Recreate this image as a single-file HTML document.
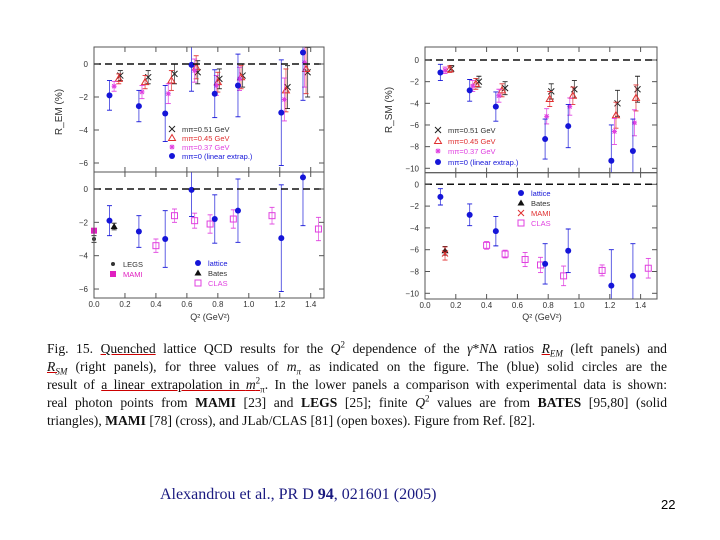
<!DOCTYPE html>
<html><head><meta charset="utf-8"><style>
body{margin:0;background:#fff;width:720px;height:540px;overflow:hidden;position:relative;font-family:"Liberation Serif",serif}
svg{position:absolute;left:0;top:0}
.cap{position:absolute;left:47px;top:340px;width:620px;font-size:13.6px;color:#111}
.ln{height:18px;line-height:18px;text-align:justify;text-align-last:justify;white-space:nowrap;overflow:visible}
.ln.last{text-align-last:left}
sup,sub{font-size:9px;line-height:0}
.u{text-decoration:underline;text-decoration-color:#c00}
</style></head><body>
<svg id="chart" width="720" height="330"></svg>
<div class="cap">
<div class="ln">Fig. 15. <span class="u">Quenched</span> lattice QCD results for the <i>Q</i><sup>2</sup> dependence of the <i>γ</i>*<i>N</i>Δ ratios <span class="u"><i>R<sub>EM</sub></i></span> (left panels) and</div>
<div class="ln"><span class="u"><i>R<sub>SM</sub></i></span> (right panels), for three values of <i>m<sub>π</sub></i> as indicated on the figure. The (blue) solid circles are the</div>
<div class="ln">result of <span class="u">a linear extrapolation in <i>m</i><sup>2</sup><sub>π</sub></span>. In the lower panels a comparison with experimental data is shown:</div>
<div class="ln">real photon points from <b>MAMI</b> [23] and <b>LEGS</b> [25]; finite <i>Q</i><sup>2</sup> values are from <b>BATES</b> [95,80] (solid</div>
<div class="ln last">triangles), <b>MAMI</b> [78] (cross), and JLab/CLAS [81] (open boxes). Figure from Ref. [82].</div>
</div>
<div style="position:absolute;left:160px;top:486px;font-size:16px;color:#1a1a80">Alexandrou et al., PR D <b>94</b>, 021601 (2005)</div>
<div style="position:absolute;left:661px;top:497px;font-family:'Liberation Sans',sans-serif;font-size:13px">22</div>
<script>
// R_EM data (left)
const emQ = [0.10,0.29,0.46,0.63,0.78,0.93,1.21,1.35];
const emLat = [-1.9,-2.55,-3.0,-0.05,-1.8,-1.3,-2.95,0.7];
const emLatErr = [0.9,0.95,1.7,1.6,1.45,1.9,3.2,2.9];
const em51Q = [0.17,0.35,0.52,0.67,0.81,0.96,1.25,1.38];
const em51 = [-0.7,-0.8,-0.6,-0.5,-0.9,-0.7,-1.4,-0.5];
const em45Q = [0.16,0.33,0.50,0.66,0.80,0.95,1.24,1.37];
const em45 = [-0.9,-1.1,-1.0,-0.2,-1.1,-0.8,-1.6,-0.3];
const em37Q = [0.13,0.31,0.48,0.65,0.79,0.94,1.23,1.36];
const em37 = [-1.35,-1.7,-1.8,-0.4,-1.3,-0.9,-2.15,0.1];
const emMassErr = [0.3,0.4,0.6,0.7,0.6,0.7,1.3,1.5];
const emClasQ = [0.40,0.52,0.65,0.75,0.90,1.15,1.45];
const emClas = [-3.4,-1.6,-1.9,-2.1,-1.8,-1.6,-2.4];
const emClasErr = [0.4,0.4,0.45,0.55,0.55,0.5,0.7];
// R_SM data (right)
const smQ = [0.10,0.29,0.46,0.78,0.93,1.21,1.35];
const smLat = [-1.15,-2.8,-4.3,-7.3,-6.1,-9.3,-8.4];
const smLatErr = [0.75,1.0,1.35,1.85,2.0,3.3,2.95];
const sm51Q = [0.17,0.35,0.52,0.82,0.97,1.25,1.38];
const sm51 = [-0.8,-2.0,-2.6,-2.9,-2.7,-4.0,-2.7];
const sm45Q = [0.16,0.33,0.50,0.81,0.96,1.24,1.37];
const sm45 = [-0.85,-2.2,-2.8,-3.6,-3.3,-5.1,-3.5];
const sm37Q = [0.13,0.31,0.48,0.79,0.94,1.23,1.36];
const sm37 = [-0.95,-2.4,-3.3,-5.2,-4.3,-6.6,-5.8];
const smMassErr = [0.3,0.5,0.6,0.7,0.8,1.2,1.2];
const smClasQ = [0.40,0.52,0.65,0.75,0.90,1.15,1.45];
const smClas = [-5.6,-6.4,-6.9,-7.4,-8.4,-7.9,-7.7];
const smClasErr = [0.35,0.35,0.65,0.7,0.9,0.5,0.9];
const xTicks = [0.0,0.2,0.4,0.6,0.8,1.0,1.2,1.4];

const svg=document.getElementById('chart');
const NS='http://www.w3.org/2000/svg';
function mk(tag,attrs,parent){const e=document.createElementNS(NS,tag);for(const k in attrs)e.setAttribute(k,attrs[k]);(parent||svg).appendChild(e);return e;}
const BLUE='#1515d8',RED='#e03030',MAG='#e040e0',BLK='#222';
const defs=mk('defs',{});
let clipN=0;

function panel(name,xl,xr,yt,yb,xs,y0,ys,yTicks,showX){
  const id='clip'+(clipN++);
  const cp=mk('clipPath',{id},defs);
  mk('rect',{x:xl-5,y:yt,width:xr-xl+10,height:yb-yt},cp);
  const outer=mk('g',{});
  
  
  const g=mk('g',{'clip-path':'url(#'+id+')'},outer);
  const X=v=>xl+xs*v, Y=v=>y0-ys*v;
  mk('rect',{x:xl,y:yt,width:xr-xl,height:yb-yt,fill:'none',stroke:'#555','stroke-width':1},outer);
  mk('line',{x1:xl,x2:xr,y1:Y(0),y2:Y(0),stroke:'#111','stroke-width':1.5,'stroke-dasharray':'7,4'},outer);
  yTicks.forEach(t=>{mk('line',{x1:xl,x2:xl+5,y1:Y(t),y2:Y(t),stroke:'#555'},outer);mk('line',{x1:xr,x2:xr-5,y1:Y(t),y2:Y(t),stroke:'#555'},outer);
    const tx=mk('text',{x:xl-6,y:Y(t)+3,'text-anchor':'end','font-size':8,'font-family':'Liberation Sans,sans-serif',fill:'#333'},outer);tx.textContent=(t<0?'−'+(-t):t);});
  xTicks.forEach(t=>{mk('line',{x1:X(t),x2:X(t),y1:yb,y2:yb-5,stroke:'#555'},outer);mk('line',{x1:X(t),x2:X(t),y1:yt,y2:yt+5,stroke:'#555'},outer);
    if(showX){const tx=mk('text',{x:X(t),y:yb+9,'text-anchor':'middle','font-size':8,'font-family':'Liberation Sans,sans-serif',fill:'#333'},outer);tx.textContent=t.toFixed(1);}});
  return {g,X,Y};
}
function err(p,x,y,e,c){mk('line',{x1:p.X(x),x2:p.X(x),y1:p.Y(y-e),y2:p.Y(y+e),stroke:c,'stroke-width':0.9,opacity:0.75},p.g);
  [y-e,y+e].forEach(v=>mk('line',{x1:p.X(x)-2.5,x2:p.X(x)+2.5,y1:p.Y(v),y2:p.Y(v),stroke:c,'stroke-width':0.9},p.g));}
function sym(p,type,cx,cy,name){let e;
  if(type==='dot')e=mk('circle',{cx,cy,r:3,fill:BLUE},p.g);
  else if(type==='x'){e=mk('path',{d:`M${cx-3},${cy-3}L${cx+3},${cy+3}M${cx-3},${cy+3}L${cx+3},${cy-3}`,stroke:BLK,'stroke-width':1},p.g);}
  else if(type==='xr'){e=mk('path',{d:`M${cx-3},${cy-3}L${cx+3},${cy+3}M${cx-3},${cy+3}L${cx+3},${cy-3}`,stroke:RED,'stroke-width':1},p.g);}
  else if(type==='tri')e=mk('path',{d:`M${cx},${cy-3.5}L${cx+3.5},${cy+2.5}L${cx-3.5},${cy+2.5}Z`,fill:'none',stroke:RED},p.g);
  else if(type==='ftri')e=mk('path',{d:`M${cx},${cy-3.5}L${cx+3.5},${cy+2.5}L${cx-3.5},${cy+2.5}Z`,fill:'#111'},p.g);
  else if(type==='star')e=mk('path',{d:`M${cx-2.5},${cy}L${cx+2.5},${cy}M${cx},${cy-2.5}L${cx},${cy+2.5}M${cx-2},${cy-2}L${cx+2},${cy+2}M${cx-2},${cy+2}L${cx+2},${cy-2}`,stroke:MAG,'stroke-width':1},p.g);
  else if(type==='box')e=mk('rect',{x:cx-3,y:cy-3,width:6,height:6,fill:'none',stroke:MAG},p.g);
  else if(type==='fbox')e=mk('rect',{x:cx-3,y:cy-3,width:6,height:6,fill:'#e020c0'},p.g);
  else if(type==='legs')e=mk('circle',{cx,cy,r:2,fill:'#333'},p.g);
  
  
}
function series(p,qs,vs,es,type,c,name){qs.forEach((q,i)=>{err(p,q,vs[i],es[i],c);sym(p,type,p.X(q),p.Y(vs[i]),name);});}
function label(x,y,txt,c,size,anchor,name){const t=mk('text',{x,y,fill:c,'font-size':size||8,'font-family':'Liberation Sans,sans-serif','text-anchor':anchor||'start'});t.textContent=txt;
  
  return t;}
function legend(p,x,y,type,txt,c,name){sym(p,type,x,y,name+'-symbol');label(x+10,y+3,txt,c,7.5,'start',name);}

// Left top
let p=panel('rem-top-panel',94,324,47,172,154.8,64,16.5,[0,-2,-4,-6],false);
series(p,em51Q,em51,emMassErr,'x',BLK,'rem-mpi-051-point');
series(p,em45Q,em45,emMassErr,'tri',RED,'rem-mpi-045-point');
series(p,em37Q,em37,emMassErr,'star',MAG,'rem-mpi-037-point');
series(p,emQ,emLat,emLatErr,'dot',BLUE,'rem-lattice-point');
legend(p,172,129,'x','mπ=0.51 GeV','#333','legend-entry-051');
legend(p,172,138,'tri','mπ=0.45 GeV',RED,'legend-entry-045');
legend(p,172,147,'star','mπ=0.37 GeV',MAG,'legend-entry-037');
legend(p,172,156,'dot','mπ=0 (linear extrap.)',BLUE,'legend-entry-lattice');
// Left bottom
p=panel('rem-bottom-panel',94,324,172,298,154.8,189,16.67,[0,-2,-4,-6],true);
series(p,emClasQ,emClas,emClasErr,'box',MAG,'rem-clas-point');
series(p,emQ,emLat,emLatErr,'dot',BLUE,'rem-lattice-point');
err(p,0,-3.0,0.2,BLK);sym(p,'legs',p.X(0),p.Y(-3.0),'legs-point');
sym(p,'fbox',p.X(0),p.Y(-2.5),'mami-point');
err(p,0.13,-2.25,0.2,BLK);sym(p,'ftri',p.X(0.13),p.Y(-2.25),'bates-point');
legend(p,113,264,'legs','LEGS','#333','legend-legs');
legend(p,113,274,'fbox','MAMI','#e020c0','legend-mami');
legend(p,198,263,'dot','lattice',BLUE,'legend-lattice');
legend(p,198,273,'ftri','Bates','#333','legend-bates');
legend(p,198,283,'box','CLAS',MAG,'legend-clas');
// Right top
p=panel('rsm-top-panel',425,657,47,172.7,154,60,10.83,[0,-2,-4,-6,-8,-10],false);
series(p,sm51Q,sm51,smMassErr,'x',BLK,'rsm-mpi-051-point');
series(p,sm45Q,sm45,smMassErr,'tri',RED,'rsm-mpi-045-point');
series(p,sm37Q,sm37,smMassErr,'star',MAG,'rsm-mpi-037-point');
series(p,smQ,smLat,smLatErr,'dot',BLUE,'rsm-lattice-point');
legend(p,438,130,'x','   mπ=0.51 GeV','#333','legend-entry-051');
legend(p,438,141,'tri','   mπ=0.45 GeV',RED,'legend-entry-045');
legend(p,438,151,'star','   mπ=0.37 GeV',MAG,'legend-entry-037');
legend(p,438,162,'dot','    mπ=0 (linear extrap.)',BLUE,'legend-entry-lattice');
// Right bottom
p=panel('rsm-bottom-panel',425,657,172.7,299,154,184.3,10.9,[0,-2,-4,-6,-8,-10],true);
series(p,smClasQ,smClas,smClasErr,'box',MAG,'rsm-clas-point');
series(p,smQ,smLat,smLatErr,'dot',BLUE,'rsm-lattice-point');
err(p,0.13,-6.1,0.4,BLK);sym(p,'ftri',p.X(0.13),p.Y(-6.1),'bates-point');
err(p,0.13,-6.35,0.6,RED);sym(p,'xr',p.X(0.13),p.Y(-6.35),'mami-point');
legend(p,521,193,'dot','lattice',BLUE,'legend-lattice');
legend(p,521,203,'ftri','Bates','#333','legend-bates');
legend(p,521,213,'xr','MAMI',RED,'legend-mami');
legend(p,521,223,'box','CLAS',MAG,'legend-clas');
// axis titles
let t=label(62,112,'R_EM (%)','#333',10,'middle','y-axis-title-rem');t.setAttribute('transform','rotate(-90 62 112)');
t=label(392,110,'R_SM (%)','#333',10,'middle','y-axis-title-rsm');t.setAttribute('transform','rotate(-90 392 110)');
label(210,320,'Q² (GeV²)','#333',9,'middle','x-axis-title-left');
label(542,320,'Q² (GeV²)','#333',9,'middle','x-axis-title-right');
</script>
</body></html>
